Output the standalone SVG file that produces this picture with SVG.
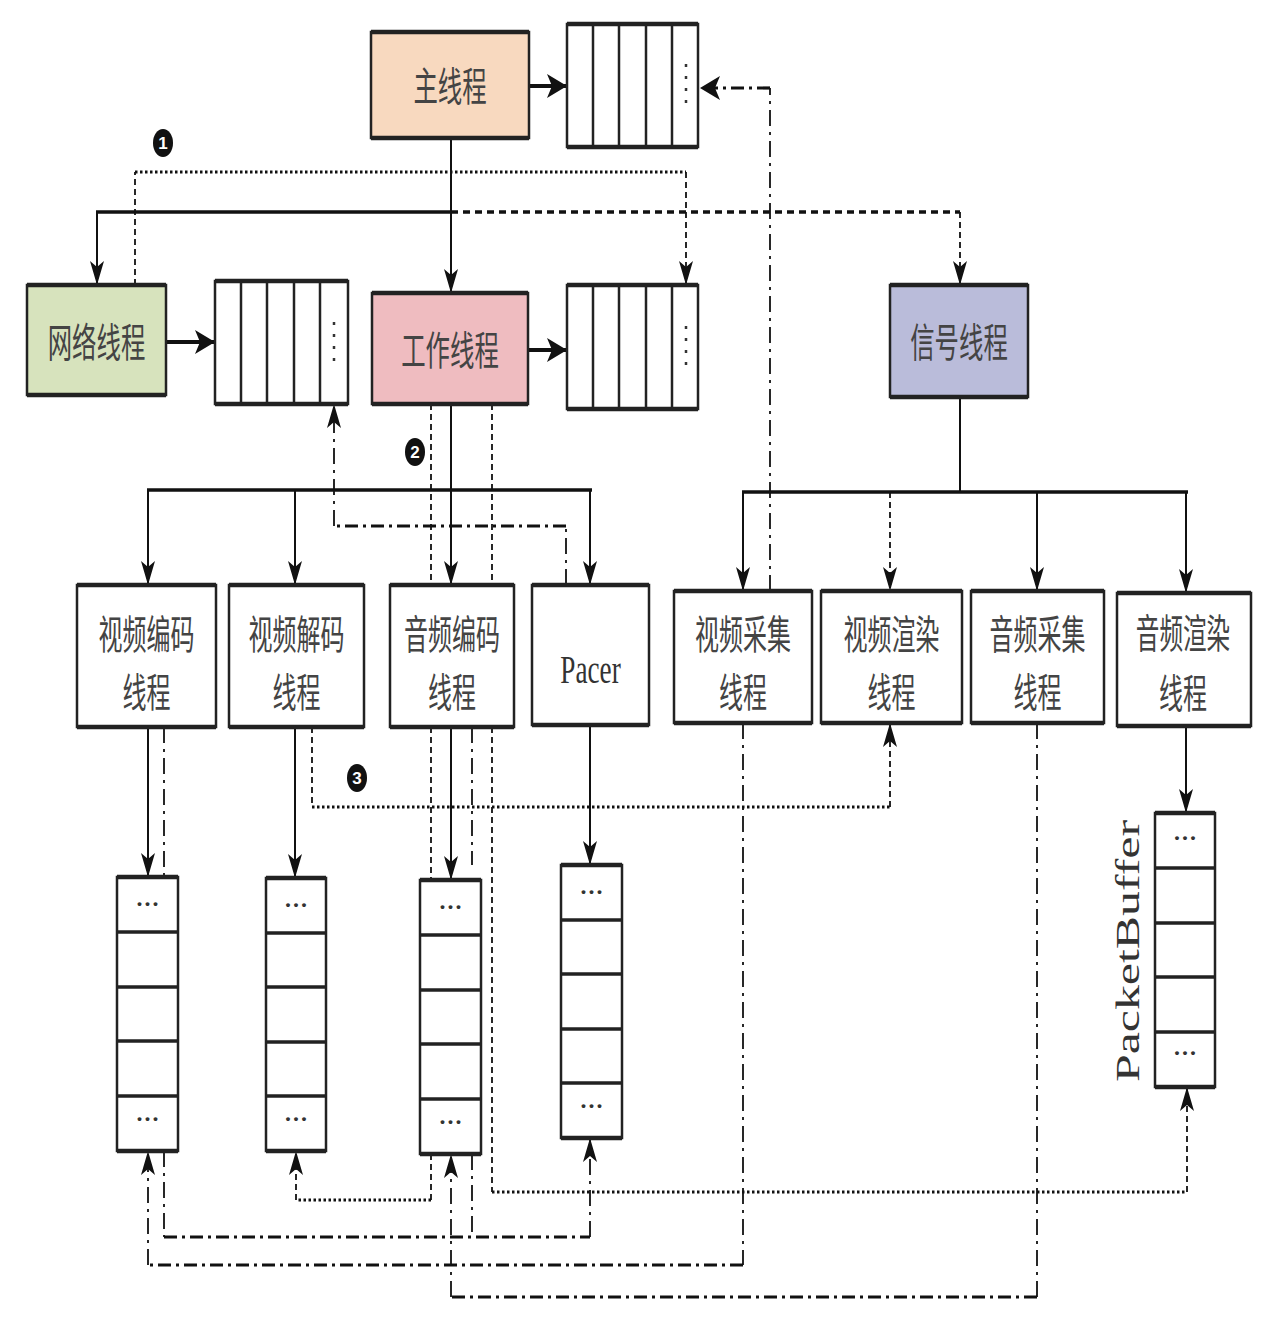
<svg xmlns="http://www.w3.org/2000/svg" width="1264" height="1338" viewBox="0 0 1264 1338">
<defs>
<style>
.bx{stroke:#222;stroke-width:2.5;fill:#fff}
.tb{stroke:#222;stroke-width:4.5;fill:none}
.dv{stroke:#222;stroke-width:2.5;fill:none}
.dvh{stroke:#222;stroke-width:3.5;fill:none}
.lbl{font-family:"Noto Sans CJK SC","Noto Sans CJK TC",sans-serif;font-size:40px;fill:#444;text-anchor:middle}
.ser{font-family:"Liberation Serif",serif;fill:#333;text-anchor:middle}
.ell{font-family:"Liberation Serif",serif;font-size:24px;font-weight:bold;fill:#333;text-anchor:middle}
.qd{stroke:#333;stroke-width:2.5;stroke-dasharray:3 9;fill:none}
.solid{stroke:#111;stroke-width:2;fill:none}
.solidb{stroke:#111;stroke-width:4;fill:none}
.bus{stroke:#111;stroke-width:3.5;fill:none}
.dot{stroke:#111;stroke-width:3;stroke-dasharray:2.5 2.5;fill:none}
.dash{stroke:#111;stroke-width:1.8;stroke-dasharray:6 4;fill:none}
.tdash{stroke:#111;stroke-width:3.5;stroke-dasharray:7 5;fill:none}
.dd{stroke:#111;stroke-width:3.2;stroke-dasharray:13 5 3 5;fill:none}
.ddv{stroke:#111;stroke-width:1.8;stroke-dasharray:16 6 3 6;fill:none}
.num{font-family:"Liberation Sans",sans-serif;font-size:17px;font-weight:bold;fill:#fff;text-anchor:middle}
</style>
<marker id="ah" markerUnits="userSpaceOnUse" markerWidth="26" markerHeight="16" refX="24" refY="7" orient="auto"><path d="M0,0 L24,7 L0,14 L6,7 Z" fill="#111"/></marker>
<marker id="ahb" markerUnits="userSpaceOnUse" markerWidth="24" markerHeight="26" refX="20" refY="12" orient="auto"><path d="M0,0 L20,12 L0,24 L5,12 Z" fill="#111"/></marker>
</defs>
<rect width="1264" height="1338" fill="#fff"/>

<g id="connectors">
<line class="solidb" x1="529" y1="86" x2="567" y2="86" marker-end="url(#ahb)"/>
<line class="solidb" x1="166" y1="342" x2="215" y2="342" marker-end="url(#ahb)"/>
<line class="solidb" x1="528" y1="350" x2="567" y2="350" marker-end="url(#ahb)"/>
<line class="solid" x1="451" y1="138" x2="451" y2="293" marker-end="url(#ah)"/>
<line class="bus" x1="96" y1="212" x2="451" y2="212"/>
<line class="solid" x1="97" y1="212" x2="97" y2="285" marker-end="url(#ah)"/>
<line class="tdash" x1="451" y1="212" x2="960" y2="212"/>
<line class="dash" x1="960" y1="212" x2="960" y2="285" marker-end="url(#ah)"/>
<line class="dash" x1="135" y1="285" x2="135" y2="172"/>
<line class="dot" x1="135" y1="172" x2="686" y2="172"/>
<line class="dash" x1="686" y1="172" x2="686" y2="285" marker-end="url(#ah)"/>
<line class="ddv" x1="770" y1="591" x2="770" y2="88"/>
<line class="dd" x1="770" y1="88" x2="700" y2="88" marker-end="url(#ahb)"/>
<line class="solid" x1="451" y1="404" x2="451" y2="585" marker-end="url(#ah)"/>
<line class="bus" x1="147" y1="490" x2="592" y2="490"/>
<line class="solid" x1="148" y1="490" x2="148" y2="585" marker-end="url(#ah)"/>
<line class="solid" x1="295" y1="490" x2="295" y2="585" marker-end="url(#ah)"/>
<line class="solid" x1="590" y1="490" x2="590" y2="585" marker-end="url(#ah)"/>
<line class="solid" x1="960" y1="397" x2="960" y2="492"/>
<line class="bus" x1="742" y1="492" x2="1188" y2="492"/>
<line class="solid" x1="743" y1="492" x2="743" y2="591" marker-end="url(#ah)"/>
<line class="dash" x1="890" y1="492" x2="890" y2="591" marker-end="url(#ah)"/>
<line class="solid" x1="1037" y1="492" x2="1037" y2="591" marker-end="url(#ah)"/>
<line class="solid" x1="1186" y1="492" x2="1186" y2="593" marker-end="url(#ah)"/>
<line class="ddv" x1="566" y1="585" x2="566" y2="526"/>
<line class="dd" x1="566" y1="526" x2="334" y2="526"/>
<line class="ddv" x1="334" y1="526" x2="334" y2="404" marker-end="url(#ah)"/>
<line class="dash" x1="431" y1="404" x2="431" y2="585"/>
<line class="dash" x1="431" y1="727" x2="431" y2="880"/>
<line class="dash" x1="431" y1="1154" x2="431" y2="1200"/>
<line class="dot" x1="431" y1="1200" x2="296" y2="1200"/>
<line class="dash" x1="296" y1="1200" x2="296" y2="1151" marker-end="url(#ah)"/>
<line class="dash" x1="492" y1="404" x2="492" y2="585"/>
<line class="dash" x1="492" y1="727" x2="492" y2="1192"/>
<line class="dot" x1="492" y1="1192" x2="1187" y2="1192"/>
<line class="dash" x1="1187" y1="1192" x2="1187" y2="1087" marker-end="url(#ah)"/>
<line class="solid" x1="148" y1="727" x2="148" y2="877" marker-end="url(#ah)"/>
<line class="solid" x1="295" y1="727" x2="295" y2="878" marker-end="url(#ah)"/>
<line class="solid" x1="451" y1="727" x2="451" y2="880" marker-end="url(#ah)"/>
<line class="solid" x1="590" y1="725" x2="590" y2="865" marker-end="url(#ah)"/>
<line class="solid" x1="1186" y1="726" x2="1186" y2="813" marker-end="url(#ah)"/>
<line class="dash" x1="312" y1="727" x2="312" y2="807"/>
<line class="dot" x1="312" y1="807" x2="890" y2="807"/>
<line class="dash" x1="890" y1="807" x2="890" y2="723" marker-end="url(#ah)"/>
<line class="ddv" x1="164" y1="727" x2="164" y2="877"/>
<line class="ddv" x1="164" y1="1151" x2="164" y2="1237"/>
<line class="dd" x1="164" y1="1237" x2="590" y2="1237"/>
<line class="ddv" x1="590" y1="1237" x2="590" y2="1138" marker-end="url(#ah)"/>
<line class="ddv" x1="472" y1="727" x2="472" y2="865"/>
<line class="ddv" x1="472" y1="1154" x2="472" y2="1237"/>
<line class="ddv" x1="743" y1="723" x2="743" y2="1265"/>
<line class="dd" x1="743" y1="1265" x2="148" y2="1265"/>
<line class="ddv" x1="148" y1="1265" x2="148" y2="1151" marker-end="url(#ah)"/>
<line class="ddv" x1="1037" y1="723" x2="1037" y2="1297"/>
<line class="dd" x1="1037" y1="1297" x2="451" y2="1297"/>
<line class="ddv" x1="451" y1="1297" x2="451" y2="1154" marker-end="url(#ah)"/>
</g>

<g id="step-numbers">
<ellipse cx="163" cy="143" rx="10" ry="14" fill="#111"/><text class="num" x="163" y="149">1</text>
<ellipse cx="415" cy="452" rx="10" ry="14" fill="#111"/><text class="num" x="415" y="458">2</text>
<ellipse cx="357" cy="778" rx="10" ry="14" fill="#111"/><text class="num" x="357" y="784">3</text>
</g>

<g id="main-thread">
<rect class="bx" x="371" y="32" width="158" height="106" style="fill:#f8d9bf"/>
<line class="tb" x1="371" y1="32" x2="529" y2="32"/><line class="tb" x1="371" y1="138" x2="529" y2="138"/>
<text class="lbl" transform="translate(450,101) scale(0.61,1)">主线程</text>
</g>
<g id="main-queue">
<rect class="bx" x="567" y="24" width="131" height="123"/>
<line class="tb" x1="567" y1="24" x2="698" y2="24"/><line class="tb" x1="567" y1="147" x2="698" y2="147"/>
<line class="dv" x1="593" y1="24" x2="593" y2="147"/><line class="dv" x1="619" y1="24" x2="619" y2="147"/><line class="dv" x1="646" y1="24" x2="646" y2="147"/><line class="dv" x1="672" y1="24" x2="672" y2="147"/>
<line class="qd" x1="686" y1="64" x2="686" y2="108"/>
</g>

<g id="network-thread">
<rect class="bx" x="27" y="285" width="139" height="110" style="fill:#d7e3bd"/>
<line class="tb" x1="27" y1="285" x2="166" y2="285"/><line class="tb" x1="27" y1="395" x2="166" y2="395"/>
<text class="lbl" transform="translate(96.5,357) scale(0.61,1)">网络线程</text>
</g>
<g id="network-queue">
<rect class="bx" x="215" y="281" width="133" height="123"/>
<line class="tb" x1="215" y1="281" x2="348" y2="281"/><line class="tb" x1="215" y1="404" x2="348" y2="404"/>
<line class="dv" x1="241" y1="281" x2="241" y2="404"/><line class="dv" x1="267" y1="281" x2="267" y2="404"/><line class="dv" x1="294" y1="281" x2="294" y2="404"/><line class="dv" x1="320" y1="281" x2="320" y2="404"/>
<line class="qd" x1="334" y1="322" x2="334" y2="366"/>
</g>

<g id="work-thread">
<rect class="bx" x="372" y="293" width="156" height="111" style="fill:#efbcc0"/>
<line class="tb" x1="372" y1="293" x2="528" y2="293"/><line class="tb" x1="372" y1="404" x2="528" y2="404"/>
<text class="lbl" transform="translate(450,365) scale(0.61,1)">工作线程</text>
</g>
<g id="work-queue">
<rect class="bx" x="567" y="285" width="131" height="124"/>
<line class="tb" x1="567" y1="285" x2="698" y2="285"/><line class="tb" x1="567" y1="409" x2="698" y2="409"/>
<line class="dv" x1="593" y1="285" x2="593" y2="409"/><line class="dv" x1="619" y1="285" x2="619" y2="409"/><line class="dv" x1="646" y1="285" x2="646" y2="409"/><line class="dv" x1="672" y1="285" x2="672" y2="409"/>
<line class="qd" x1="686" y1="326" x2="686" y2="370"/>
</g>

<g id="signal-thread">
<rect class="bx" x="890" y="285" width="138" height="112" style="fill:#babcda"/>
<line class="tb" x1="890" y1="285" x2="1028" y2="285"/><line class="tb" x1="890" y1="397" x2="1028" y2="397"/>
<text class="lbl" transform="translate(959,357) scale(0.61,1)">信号线程</text>
</g>

<g id="video-encode-thread">
<rect class="bx" x="77" y="585" width="139" height="142"/>
<line class="tb" x1="77" y1="585" x2="216" y2="585"/><line class="tb" x1="77" y1="727" x2="216" y2="727"/>
<text class="lbl" transform="translate(146.5,649) scale(0.6,1)">视频编码</text>
<text class="lbl" transform="translate(146.5,707) scale(0.6,1)">线程</text>
</g>
<g id="video-decode-thread">
<rect class="bx" x="229" y="585" width="135" height="142"/>
<line class="tb" x1="229" y1="585" x2="364" y2="585"/><line class="tb" x1="229" y1="727" x2="364" y2="727"/>
<text class="lbl" transform="translate(296.5,649) scale(0.6,1)">视频解码</text>
<text class="lbl" transform="translate(296.5,707) scale(0.6,1)">线程</text>
</g>
<g id="audio-encode-thread">
<rect class="bx" x="390" y="585" width="124" height="142"/>
<line class="tb" x1="390" y1="585" x2="514" y2="585"/><line class="tb" x1="390" y1="727" x2="514" y2="727"/>
<text class="lbl" transform="translate(452,649) scale(0.6,1)">音频编码</text>
<text class="lbl" transform="translate(452,707) scale(0.6,1)">线程</text>
</g>
<g id="pacer">
<rect class="bx" x="532" y="585" width="117" height="140"/>
<line class="tb" x1="532" y1="585" x2="649" y2="585"/><line class="tb" x1="532" y1="725" x2="649" y2="725"/>
<text class="ser" transform="translate(590.5,683) scale(0.68,1)" font-size="40">Pacer</text>
</g>
<g id="video-capture-thread">
<rect class="bx" x="674" y="591" width="138" height="132"/>
<line class="tb" x1="674" y1="591" x2="812" y2="591"/><line class="tb" x1="674" y1="723" x2="812" y2="723"/>
<text class="lbl" transform="translate(743,649) scale(0.6,1)">视频采集</text>
<text class="lbl" transform="translate(743,707) scale(0.6,1)">线程</text>
</g>
<g id="video-render-thread">
<rect class="bx" x="821" y="591" width="141" height="132"/>
<line class="tb" x1="821" y1="591" x2="962" y2="591"/><line class="tb" x1="821" y1="723" x2="962" y2="723"/>
<text class="lbl" transform="translate(891.5,649) scale(0.6,1)">视频渲染</text>
<text class="lbl" transform="translate(891.5,707) scale(0.6,1)">线程</text>
</g>
<g id="audio-capture-thread">
<rect class="bx" x="971" y="591" width="133" height="132"/>
<line class="tb" x1="971" y1="591" x2="1104" y2="591"/><line class="tb" x1="971" y1="723" x2="1104" y2="723"/>
<text class="lbl" transform="translate(1037.5,649) scale(0.6,1)">音频采集</text>
<text class="lbl" transform="translate(1037.5,707) scale(0.6,1)">线程</text>
</g>
<g id="audio-render-thread">
<rect class="bx" x="1117" y="593" width="134" height="133"/>
<line class="tb" x1="1117" y1="593" x2="1251" y2="593"/><line class="tb" x1="1117" y1="726" x2="1251" y2="726"/>
<text class="lbl" transform="translate(1183,648) scale(0.59,1)">音频渲染</text>
<text class="lbl" transform="translate(1183,708) scale(0.6,1)">线程</text>
</g>

<g id="buffer-video-encode">
<rect class="bx" x="117" y="877" width="61" height="274"/>
<line class="tb" x1="117" y1="877" x2="178" y2="877"/><line class="tb" x1="117" y1="1151" x2="178" y2="1151"/>
<line class="dvh" x1="117" y1="932" x2="178" y2="932"/><line class="dvh" x1="117" y1="987" x2="178" y2="987"/><line class="dvh" x1="117" y1="1041" x2="178" y2="1041"/><line class="dvh" x1="117" y1="1096" x2="178" y2="1096"/>
<text class="ell" x="147.5" y="912">···</text><text class="ell" x="147.5" y="1127">···</text>
</g>
<g id="buffer-video-decode">
<rect class="bx" x="266" y="878" width="60" height="273"/>
<line class="tb" x1="266" y1="878" x2="326" y2="878"/><line class="tb" x1="266" y1="1151" x2="326" y2="1151"/>
<line class="dvh" x1="266" y1="933" x2="326" y2="933"/><line class="dvh" x1="266" y1="987" x2="326" y2="987"/><line class="dvh" x1="266" y1="1042" x2="326" y2="1042"/><line class="dvh" x1="266" y1="1096" x2="326" y2="1096"/>
<text class="ell" x="296" y="913">···</text><text class="ell" x="296" y="1127">···</text>
</g>
<g id="buffer-audio-encode">
<rect class="bx" x="420" y="880" width="61" height="274"/>
<line class="tb" x1="420" y1="880" x2="481" y2="880"/><line class="tb" x1="420" y1="1154" x2="481" y2="1154"/>
<line class="dvh" x1="420" y1="935" x2="481" y2="935"/><line class="dvh" x1="420" y1="990" x2="481" y2="990"/><line class="dvh" x1="420" y1="1044" x2="481" y2="1044"/><line class="dvh" x1="420" y1="1099" x2="481" y2="1099"/>
<text class="ell" x="450.5" y="915">···</text><text class="ell" x="450.5" y="1130">···</text>
</g>
<g id="buffer-pacer">
<rect class="bx" x="561" y="865" width="61" height="273"/>
<line class="tb" x1="561" y1="865" x2="622" y2="865"/><line class="tb" x1="561" y1="1138" x2="622" y2="1138"/>
<line class="dvh" x1="561" y1="920" x2="622" y2="920"/><line class="dvh" x1="561" y1="974" x2="622" y2="974"/><line class="dvh" x1="561" y1="1029" x2="622" y2="1029"/><line class="dvh" x1="561" y1="1083" x2="622" y2="1083"/>
<text class="ell" x="591.5" y="900">···</text><text class="ell" x="591.5" y="1114">···</text>
</g>
<g id="packet-buffer">
<rect class="bx" x="1155" y="813" width="60" height="274"/>
<line class="tb" x1="1155" y1="813" x2="1215" y2="813"/><line class="tb" x1="1155" y1="1087" x2="1215" y2="1087"/>
<line class="dvh" x1="1155" y1="868" x2="1215" y2="868"/><line class="dvh" x1="1155" y1="923" x2="1215" y2="923"/><line class="dvh" x1="1155" y1="977" x2="1215" y2="977"/><line class="dvh" x1="1155" y1="1032" x2="1215" y2="1032"/>
<text class="ell" x="1185" y="846">···</text><text class="ell" x="1185" y="1061">···</text>
<text class="ser" transform="translate(1139,951) rotate(-90)" x="0" y="0" font-size="34" textLength="262" lengthAdjust="spacingAndGlyphs">PacketBuffer</text>
</g>
</svg>
